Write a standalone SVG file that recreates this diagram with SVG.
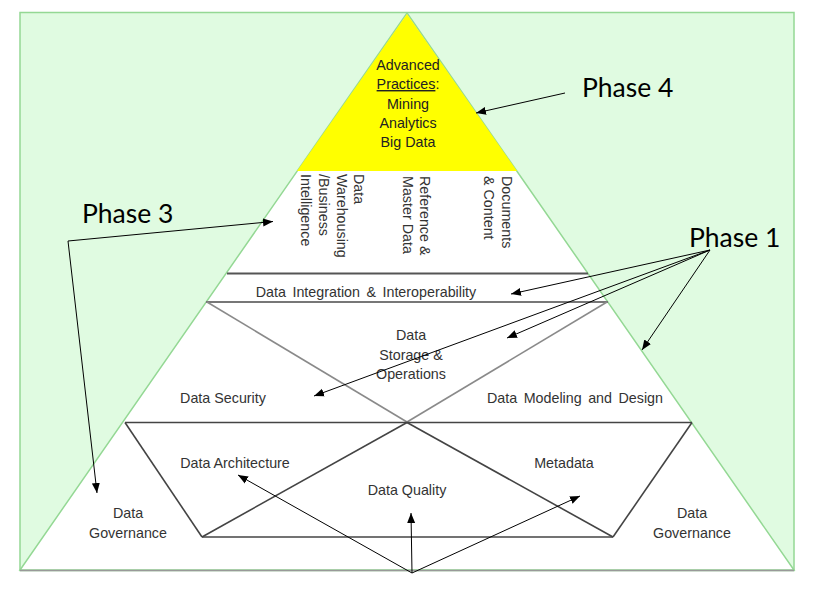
<svg xmlns="http://www.w3.org/2000/svg" width="817" height="590" viewBox="0 0 817 590">
<style>
.lbl{font-family:"Liberation Sans",Arial,sans-serif;font-size:14.3px;fill:#333;text-anchor:middle}
.vt{font-family:"Liberation Sans",Arial,sans-serif;font-size:14.3px;fill:#333}
.ph{font-family:Lato,"Liberation Sans",sans-serif;font-size:26.5px;fill:#000}
.adv{font-family:"Liberation Sans",Arial,sans-serif;font-size:14.3px;fill:#222;text-anchor:middle}
.ws{word-spacing:2.5px}
.dk{stroke:#444;stroke-width:1.6;fill:none}
.lt{stroke:#8a8a8a;stroke-width:1.6;fill:none}
.arr{stroke:#000;stroke-width:1;fill:none;marker-end:url(#ah)}
</style>
<defs>
<marker id="ah" viewBox="0 0 10 10" refX="10" refY="5" markerWidth="10" markerHeight="10" markerUnits="userSpaceOnUse" orient="auto">
<path d="M0,1 L10,5 L0,9 Z" fill="#000"/>
</marker>
</defs>
<rect x="0" y="0" width="817" height="590" fill="#fff"/>
<g id="background">
<rect x="20" y="12.5" width="774" height="558" fill="#e0fbe1" stroke="#94d894" stroke-width="1.5"/>
</g>
<g id="pyramid">
<polygon points="407,13 794,570 20,570" fill="#fff" stroke="#94d894" stroke-width="1.5"/>
<line x1="20" y1="570.5" x2="794" y2="570.5" stroke="#999" stroke-width="1.5"/>
</g>
<g id="advanced-practices">
<polygon points="407,14 297,171 517,171" fill="#ffff00"/>
<text class="adv" x="408" y="70">Advanced</text>
<text class="adv" x="408" y="89"><tspan text-decoration="underline">Practices</tspan>:</text>
<text class="adv" x="408" y="108.5">Mining</text>
<text class="adv" x="408" y="128">Analytics</text>
<text class="adv" x="408" y="147">Big Data</text>
</g>
<g id="dw-bi">
<text class="vt" transform="translate(354,174) rotate(90)">Data</text>
<text class="vt" transform="translate(337,174) rotate(90)">Warehousing</text>
<text class="vt" transform="translate(319,174) rotate(90)">/Business</text>
<text class="vt" transform="translate(301,174) rotate(90)">Intelligence</text>
</g>
<g id="reference-master-data">
<text class="vt" transform="translate(419.5,176) rotate(90)">Reference &amp;</text>
<text class="vt" transform="translate(402.5,176) rotate(90)">Master Data</text>
</g>
<g id="documents-content">
<text class="vt" transform="translate(501.5,176) rotate(90)">Documents</text>
<text class="vt" transform="translate(483.5,176) rotate(90)">&amp; Content</text>
</g>
<g id="data-integration">
<line x1="227" y1="273.5" x2="588" y2="273.5" stroke="#555" stroke-width="2"/>
<line x1="206" y1="302" x2="608" y2="302" stroke="#777" stroke-width="2"/>
<text class="lbl ws" x="366" y="297">Data Integration &amp; Interoperability</text>
</g>
<g id="middle-band">
<line class="lt" x1="207" y1="302" x2="407" y2="422"/>
<line class="lt" x1="607" y1="302" x2="407" y2="422"/>
</g>
<g id="data-storage">
<text class="lbl" x="411" y="340">Data</text>
<text class="lbl" x="411" y="359.5">Storage &amp;</text>
<text class="lbl" x="411" y="378.5">Operations</text>
</g>
<g id="data-security">
<text class="lbl" x="223" y="403">Data Security</text>
</g>
<g id="data-modeling">
<text class="lbl ws" x="575" y="403">Data Modeling and Design</text>
</g>
<g id="lower-band">
<line class="dk" x1="125" y1="422.5" x2="692" y2="422.5"/>
<line class="dk" x1="202" y1="537" x2="613" y2="537"/>
<line class="dk" x1="125" y1="422.5" x2="202" y2="537"/>
<line class="dk" x1="692" y1="422.5" x2="613" y2="537"/>
<line class="dk" x1="202" y1="537" x2="407" y2="422.5"/>
<line class="dk" x1="407" y1="422.5" x2="613" y2="537"/>
</g>
<g id="data-architecture">
<text class="lbl" x="235" y="468">Data Architecture</text>
</g>
<g id="metadata">
<text class="lbl" x="564" y="468">Metadata</text>
</g>
<g id="data-quality">
<text class="lbl" x="407" y="495">Data Quality</text>
</g>
<g id="data-governance-left">
<text class="lbl" x="128" y="518">Data</text>
<text class="lbl" x="128" y="537.5">Governance</text>
</g>
<g id="data-governance-right">
<text class="lbl" x="692" y="518">Data</text>
<text class="lbl" x="692" y="537.5">Governance</text>
</g>
<g id="phase-4">
<text class="ph" x="582" y="97">Phase 4</text>
</g>
<g id="phase-3">
<text class="ph" x="82" y="223">Phase 3</text>
</g>
<g id="phase-1">
<text class="ph" x="689" y="247">Phase 1</text>
</g>
<g id="connectors">
<line class="arr" x1="565" y1="93" x2="476" y2="113"/>
<line class="arr" x1="68" y1="241" x2="273" y2="221.5"/>
<line class="arr" x1="68" y1="241" x2="97" y2="493"/>
<line class="arr" x1="710" y1="250" x2="511" y2="294"/>
<line class="arr" x1="710" y1="250" x2="507" y2="338"/>
<line class="arr" x1="710" y1="250" x2="314" y2="396"/>
<line class="arr" x1="710" y1="250" x2="642" y2="350"/>
<line class="arr" x1="412" y1="573" x2="238" y2="475"/>
<line class="arr" x1="412" y1="573" x2="411" y2="513"/>
<line class="arr" x1="412" y1="573" x2="580" y2="496"/>
</g>
</svg>
